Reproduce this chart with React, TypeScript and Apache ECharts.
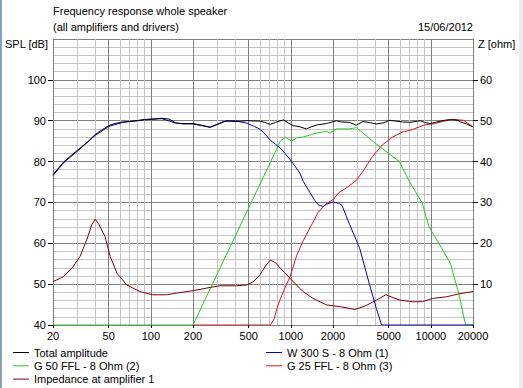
import React, { useEffect, useRef } from "react";
import * as echarts from "echarts";

const FONT = '"Liberation Sans", Arial, sans-serif';

// Axis tick labels / grid frequencies
const labelFreqs = [20, 50, 100, 200, 500, 1000, 2000, 5000, 10000, 20000];
const gridFreqs = [
  20, 30, 40, 50, 60, 70, 80, 90, 100,
  200, 300, 400, 500, 600, 700, 800, 900, 1000,
  2000, 3000, 4000, 5000, 6000, 7000, 8000, 9000, 10000, 20000,
];

// Total amplitude (dB)
const totalFreq = [20, 22, 24, 27, 30, 35, 40, 45, 50, 55, 63, 75, 90, 100, 120, 135, 150, 170, 200, 230, 265, 300, 348, 400, 484, 600, 650, 714, 780, 884, 950, 1040, 1160, 1290, 1400, 1550, 1800, 2118, 2300, 2630, 2930, 3270, 3700, 4100, 4600, 5100, 5600, 6300, 7100, 8400, 9000, 9900, 11000, 12500, 13800, 15500, 16300, 18000, 20000];
const totalDb = [76.8, 78.5, 80, 81.5, 82.8, 84.7, 86.6, 87.8, 88.8, 89.3, 89.7, 89.9, 90.3, 90.4, 90.6, 90.4, 89.5, 89.2, 89.3, 88.9, 88.4, 89.1, 90.0, 89.8, 90.0, 89.9, 89.6, 89.1, 89.6, 90.2, 89.5, 88.8, 88.5, 88.0, 88.5, 89.0, 89.3, 90.0, 89.7, 89.6, 88.9, 89.8, 89.5, 89.2, 89.5, 90.1, 89.9, 89.7, 89.6, 90.0, 89.6, 89.3, 89.7, 90.1, 90.3, 90.1, 89.7, 89.2, 88.5];

// W 300 S (dB)
const wooferFreq = [20, 24, 30, 40, 50, 63, 90, 120, 150, 200, 265, 330, 400, 484, 550, 602, 660, 714, 780, 840, 920, 1013, 1160, 1224, 1365, 1480, 1570, 1700, 1803, 2009, 2200, 2316, 2630, 3100, 3640, 4084, 4450, 20000];
const wooferDb = [76.6, 79.8, 82.6, 86.4, 88.6, 89.6, 90.2, 90.5, 89.4, 89.2, 88.4, 89.8, 90.0, 89.4, 88.6, 87.9, 86.6, 85.2, 84.2, 83.3, 81.8, 80.0, 77.2, 75.2, 72.5, 70.5, 69.4, 69.0, 69.6, 70.1, 69.8, 69.3, 64.6, 58.8, 50.0, 44.0, 40, 40];

// G 50 FFL (dB)
const midFreq = [20, 200, 265, 330, 400, 515, 602, 714, 840, 911, 1013, 1100, 1225, 1400, 1530, 1803, 1900, 2118, 2630, 2931, 3268, 3840, 4770, 5969, 7000, 8690, 9680, 11400, 13800, 15800, 17700, 20000];
const midDb = [40, 40, 48.8, 55.7, 61.7, 69.6, 74.5, 79.8, 85, 86, 85, 85.8, 86, 86.6, 87, 87.4, 87, 88, 88, 88.3, 87, 85, 82.5, 80, 75.2, 69.8, 64.1, 60, 55.1, 47.8, 40, 40];

// G 25 FFL (dB)
const tweeterFreq = [200, 714, 760, 790, 840, 900, 989, 1100, 1220, 1365, 1570, 1803, 2009, 2185, 2580, 2931, 3268, 3840, 4520, 5320, 6250, 7340, 9070, 10660, 12500, 14600, 17100, 20000];
const tweeterDb = [40, 40, 41.5, 43.7, 46.3, 48.8, 51.9, 57, 60.5, 63.7, 67.6, 69.8, 70.7, 72.3, 73.9, 75.4, 77.6, 81.3, 84.1, 86, 87.2, 87.8, 89, 89.3, 89.9, 90.3, 90.1, 88.5];

// Impedance at amplifier 1 (ohm)
const impFreq = [20, 23.7, 27.9, 31.2, 34.8, 37.8, 40, 42.1, 47, 51.2, 57.2, 67.3, 83.2, 103, 130, 152, 200, 265, 311, 409, 484, 540, 602, 660, 714, 780, 840, 911, 1040, 1220, 1440, 1803, 2250, 2860, 3420, 4090, 4770, 5970, 7340, 8690, 10300, 12900, 15800, 20000];
const impOhm = [10.6, 11.8, 14.3, 16.8, 20.8, 24.5, 25.9, 24.9, 21.7, 16.8, 12.7, 9.8, 8.2, 7.4, 7.4, 7.8, 8.4, 9.2, 9.6, 9.6, 9.8, 10.6, 12.3, 14.5, 15.9, 15.2, 13.9, 12.7, 10.6, 8.2, 6.5, 4.9, 4.5, 3.8, 4.7, 6.1, 7.4, 6.1, 5.7, 5.7, 6.5, 6.9, 7.6, 8.2];

const lg = (f: number) => Math.log10(f);
const pairs = (fs: number[], vs: number[]) => fs.map((f, i) => [lg(f), vs[i]]);

const N_TOTAL = "Total amplitude";
const N_W = "W 300 S - 8 Ohm (1)";
const N_G50 = "G 50 FFL - 8 Ohm (2)";
const N_G25 = "G 25 FFL - 8 Ohm (3)";
const N_IMP = "Impedance at amplifier 1";

export default function App() {
  const ref = useRef<HTMLDivElement>(null);
  useEffect(() => {
    if (!ref.current) return;
    const chart = echarts.init(ref.current, null, { renderer: "svg" });
    const line = (name: string, color: string, data: number[][], yAxisIndex = 0) => ({
      name,
      type: "line",
      data,
      xAxisIndex: 0,
      yAxisIndex,
      color,
      symbol: "none",
      showSymbol: false,
      silent: true,
      lineStyle: { color, width: 1 },
    });
    const textStyle = { fontSize: 11, fontFamily: FONT, color: "#000" };
    const legendCommon = {
      orient: "vertical",
      top: 346,
      icon: "rect",
      itemWidth: 16,
      itemHeight: 1,
      itemGap: 0.3,
      selectedMode: false,
      padding: 0,
      textStyle: { ...textStyle, lineHeight: 13 },
    };
    chart.setOption({
      animation: false,
      backgroundColor: "#ffffff",
      grid: { left: 53, right: 50, top: 39, bottom: 63, containLabel: false, outerBoundsMode: "none" },
      legend: [
        { ...legendCommon, left: 13, data: [N_TOTAL, N_G50, N_IMP] },
        { ...legendCommon, left: 266, data: [N_W, N_G25] },
      ],
      xAxis: [
        {
          type: "value",
          min: lg(20),
          max: lg(20000),
          axisLine: { show: true, lineStyle: { color: "#808080" } },
          axisTick: { show: false, customValues: gridFreqs.map(lg) },
          axisLabel: { show: false },
          splitLine: { show: true, lineStyle: { color: "#c4c4c4", width: 1 } },
        },
        {
          type: "value",
          position: "bottom",
          min: lg(20),
          max: lg(20000),
          axisLine: { show: false },
          axisTick: { show: true, length: 3, lineStyle: { color: "#000" }, customValues: labelFreqs.map(lg) },
          axisLabel: {
            ...textStyle,
            margin: 5,
            customValues: labelFreqs.map(lg),
            formatter: (v: number) => String(Math.round(Math.pow(10, v))),
          },
          splitLine: { show: true, lineStyle: { color: "#808080", width: 1 } },
        },
      ],
      yAxis: [
        {
          type: "value",
          position: "left",
          min: 40,
          max: 110,
          interval: 10,
          axisLine: { show: true, lineStyle: { color: "#808080" } },
          axisTick: { show: true, length: 5, lineStyle: { color: "#000" } },
          axisLabel: { ...textStyle, margin: 7, showMaxLabel: false },
          splitLine: { show: true, lineStyle: { color: "#808080", width: 1 } },
          minorTick: { show: false, splitNumber: 5 },
          minorSplitLine: { show: true, lineStyle: { color: "#c4c4c4", width: 1 } },
        },
        {
          type: "value",
          position: "right",
          min: 0,
          max: 70,
          interval: 10,
          axisLine: { show: true, lineStyle: { color: "#808080" } },
          axisTick: { show: true, length: 5, lineStyle: { color: "#000" } },
          axisLabel: { ...textStyle, margin: 7, showMinLabel: false, showMaxLabel: false },
          splitLine: { show: false },
        },
      ],
      series: [
        line(N_G25, "#e01020", pairs(tweeterFreq, tweeterDb)),
        line(N_G50, "#22cc22", pairs(midFreq, midDb)),
        line(N_IMP, "#800000", pairs(impFreq, impOhm), 1),
        line(N_W, "#0000c0", pairs(wooferFreq, wooferDb)),
        line(N_TOTAL, "#000000", pairs(totalFreq, totalDb)),
      ],
      graphic: [
        { type: "rect", left: 0, top: 0, shape: { width: 2, height: 388 }, style: { fill: "#8aa0bf" }, silent: true },
        { type: "rect", left: 519, top: 0, shape: { width: 4, height: 388 }, style: { fill: "#ececec" }, silent: true },
        { type: "text", x: 53, y: 5, style: { text: "Frequency response whole speaker", fontSize: 11, fontFamily: FONT, fill: "#000" } },
        { type: "text", x: 53, y: 21.5, style: { text: "(all amplifiers and drivers)", fontSize: 11, fontFamily: FONT, fill: "#000" } },
        { type: "text", x: 473, y: 21.5, style: { text: "15/06/2012", fontSize: 11, fontFamily: FONT, fill: "#000", align: "right", textAlign: "right" } },
        { type: "text", x: 5, y: 38, style: { text: "SPL [dB]", fontSize: 11, fontFamily: FONT, fill: "#000" } },
        { type: "text", x: 478, y: 38, style: { text: "Z [ohm]", fontSize: 11, fontFamily: FONT, fill: "#000" } },
      ],
    });
    return () => chart.dispose();
  }, []);
  return (
    <div
      ref={ref}
      style={{ position: "absolute", left: 0, top: 0, width: 523, height: 388, background: "#fff" }}
    />
  );
}
